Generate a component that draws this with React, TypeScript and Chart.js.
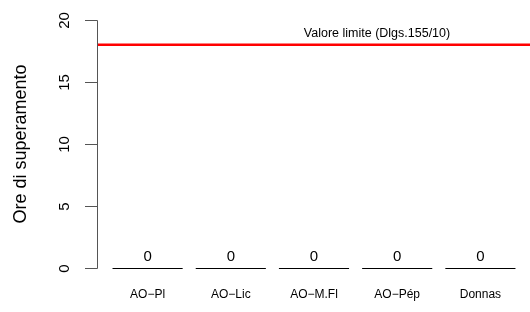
import React, { useEffect, useRef } from "react";
import { Chart, registerables } from "chart.js";

Chart.register(...registerables);

const categories = ["AO\u2212Pl", "AO\u2212Lic", "AO\u2212M.Fl", "AO\u2212P\u00e9p", "Donnas"];
const values = [0, 0, 0, 0, 0];
const yTicks = [0, 5, 10, 15, 20];
const limitValue = 18;
const limitLabel = "Valore limite (Dlgs.155/10)";
const yTitle = "Ore di superamento";

const FONT = "'Liberation Sans', Arial, Helvetica, sans-serif";

const rPlugin = {
  id: "rStyle",
  afterDatasetsDraw(chart: any) {
    const ctx = chart.ctx;
    const y = chart.scales.y;
    const area = chart.chartArea;
    const axisX = area.left - 9;
    ctx.save();
    // y axis line
    ctx.strokeStyle = "#555555";
    ctx.lineWidth = 1;
    ctx.beginPath();
    ctx.moveTo(axisX + 0.5, Math.round(y.getPixelForValue(yTicks[0])) + 0.5);
    ctx.lineTo(axisX + 0.5, Math.round(y.getPixelForValue(yTicks[yTicks.length - 1])) + 0.5);
    ctx.stroke();
    // ticks + labels
    ctx.fillStyle = "#000";
    ctx.font = `15px ${FONT}`;
    ctx.textAlign = "center";
    ctx.textBaseline = "middle";
    yTicks.forEach((t) => {
      const py = Math.round(y.getPixelForValue(t)) + 0.5;
      ctx.beginPath();
      ctx.moveTo(axisX + 0.5, py);
      ctx.lineTo(axisX - 12, py);
      ctx.stroke();
      ctx.save();
      ctx.translate(axisX - 32, py);
      ctx.rotate(-Math.PI / 2);
      ctx.fillText(String(t), 0, 0);
      ctx.restore();
    });
    // y title
    ctx.save();
    ctx.font = `18px ${FONT}`;
    ctx.translate(21, (y.getPixelForValue(0) + y.getPixelForValue(20)) / 2);
    ctx.rotate(-Math.PI / 2);
    ctx.fillText(yTitle, 0, 0);
    ctx.restore();
    // bars as lines + value labels + category labels
    const meta = chart.getDatasetMeta(0);
    ctx.strokeStyle = "#000";
    ctx.lineWidth = 1;
    meta.data.forEach((bar: any, i: number) => {
      const w = bar.width;
      const top = Math.round(bar.y) + 0.5;
      ctx.beginPath();
      ctx.moveTo(bar.x - w / 2, top);
      ctx.lineTo(bar.x + w / 2, top);
      ctx.stroke();
      ctx.font = `15px ${FONT}`;
      ctx.textBaseline = "middle";
      ctx.fillText(String(values[i]), bar.x, bar.y - 11);
      ctx.font = `12px ${FONT}`;
      ctx.fillText(categories[i], bar.x, area.bottom + 17);
    });
    // limit line
    const ly = y.getPixelForValue(limitValue);
    ctx.strokeStyle = "#ff0000";
    ctx.lineWidth = 2.5;
    ctx.beginPath();
    ctx.moveTo(axisX + 1, ly);
    ctx.lineTo(chart.width, ly);
    ctx.stroke();
    ctx.font = `12.5px ${FONT}`;
    ctx.textBaseline = "middle";
    ctx.fillText(limitLabel, 377, ly - 11);
    ctx.restore();
  },
};

export default function App() {
  const ref = useRef<HTMLCanvasElement>(null);
  useEffect(() => {
    document.body.style.margin = "0";
    const chart = new Chart(ref.current!, {
      type: "bar",
      data: {
        labels: categories,
        datasets: [
          {
            data: values,
            backgroundColor: "rgba(0,0,0,0)",
            borderWidth: 0,
            categoryPercentage: 1,
            barPercentage: 0.843,
          },
        ],
      },
      options: {
        animation: false,
        responsive: false,
        layout: { padding: { left: 106, right: 8, top: 10, bottom: 34 } },
        plugins: { legend: { display: false }, tooltip: { enabled: false } },
        scales: {
          x: { display: false },
          y: { display: false, min: -0.8, max: 20.8 },
        },
      },
      plugins: [rPlugin],
    });
    return () => chart.destroy();
  }, []);
  return (
    <div style={{ position: "absolute", left: 0, top: 0 }}>
      <canvas ref={ref} width={530} height={312} style={{ display: "block" }} />
    </div>
  );
}
